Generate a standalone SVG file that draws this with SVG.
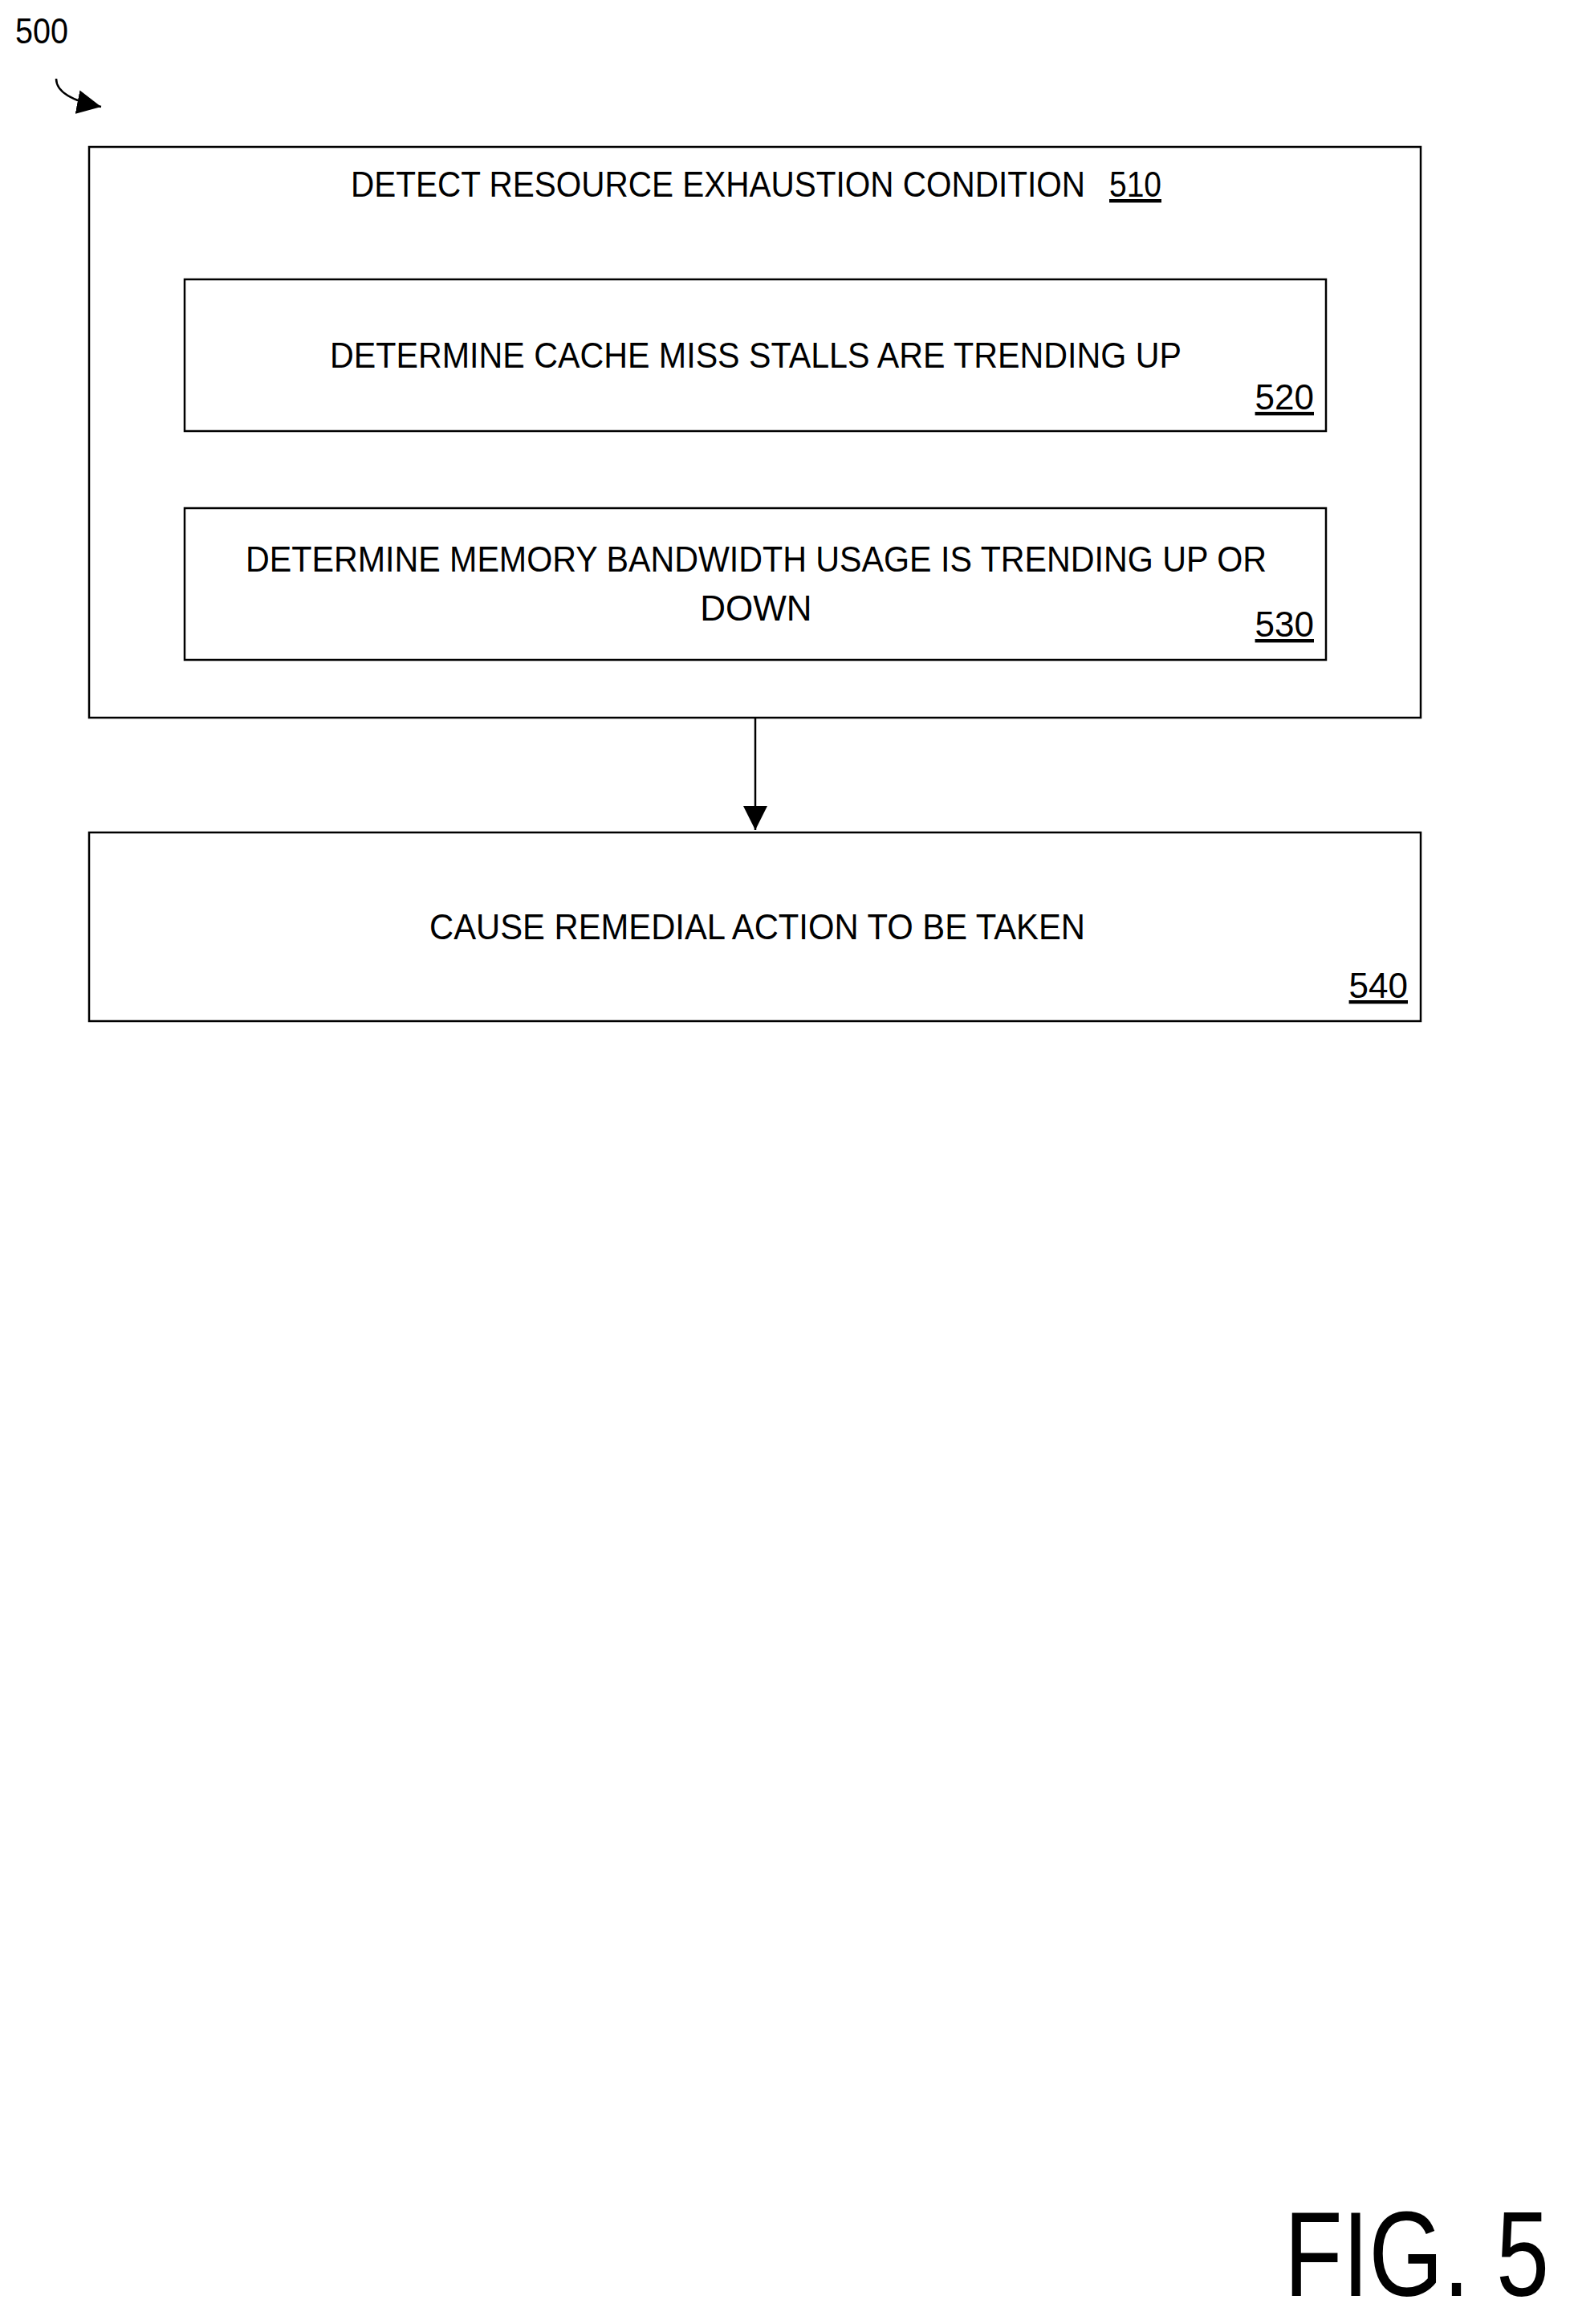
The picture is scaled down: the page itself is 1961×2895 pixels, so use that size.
<svg xmlns="http://www.w3.org/2000/svg" width="1961" height="2895" viewBox="0 0 1961 2895">
<style>
.b{fill:#fff;stroke:#000;stroke-width:2.5}
text{font-family:"Liberation Sans",Arial,sans-serif;font-size:44px;fill:#000}
.u{text-decoration:underline}
</style>
<defs><marker id="a2" markerWidth="30" markerHeight="30" refX="10" refY="5" orient="auto" markerUnits="userSpaceOnUse" viewBox="0 0 10 10"><path d="M0,0L10,5L0,10z" fill="#000"/></marker></defs>
<rect width="1961" height="2895" fill="#fff"/>
<g id="label500"><text x="19" y="54" textLength="66" lengthAdjust="spacingAndGlyphs">500</text>
<path d="M70,98 Q70,122 126,133" fill="none" stroke="#000" stroke-width="2.5" marker-end="url(#a2)"/></g>
<g id="n510"><rect class="b" x="111" y="183" width="1659" height="711"/>
<text x="437" y="245" textLength="915" lengthAdjust="spacingAndGlyphs">DETECT RESOURCE EXHAUSTION CONDITION</text>
<text class="u" x="1382" y="245" textLength="65" lengthAdjust="spacingAndGlyphs">510</text></g>
<g id="n520"><rect class="b" x="230" y="348" width="1422" height="189"/>
<text x="411" y="458" textLength="1061" lengthAdjust="spacingAndGlyphs">DETERMINE CACHE MISS STALLS ARE TRENDING UP</text>
<text class="u" x="1637" y="510" text-anchor="end">520</text></g>
<g id="n530"><rect class="b" x="230" y="633" width="1422" height="189"/>
<text x="306" y="712" textLength="1272" lengthAdjust="spacingAndGlyphs">DETERMINE MEMORY BANDWIDTH USAGE IS TRENDING UP OR</text>
<text x="942" y="773" text-anchor="middle">DOWN</text>
<text class="u" x="1637" y="793" text-anchor="end">530</text></g>
<g id="n540"><rect class="b" x="111" y="1037" width="1659" height="235"/>
<text x="535" y="1170" textLength="817" lengthAdjust="spacingAndGlyphs">CAUSE REMEDIAL ACTION TO BE TAKEN</text>
<text class="u" x="1754" y="1243" text-anchor="end">540</text></g>
<g id="connectors"><line x1="941" y1="894" x2="941" y2="1034" stroke="#000" stroke-width="2.5" marker-end="url(#a2)"/></g>
<text x="1600" y="2860" textLength="330" lengthAdjust="spacingAndGlyphs" style="font-size:150px">FIG. 5</text>
</svg>
